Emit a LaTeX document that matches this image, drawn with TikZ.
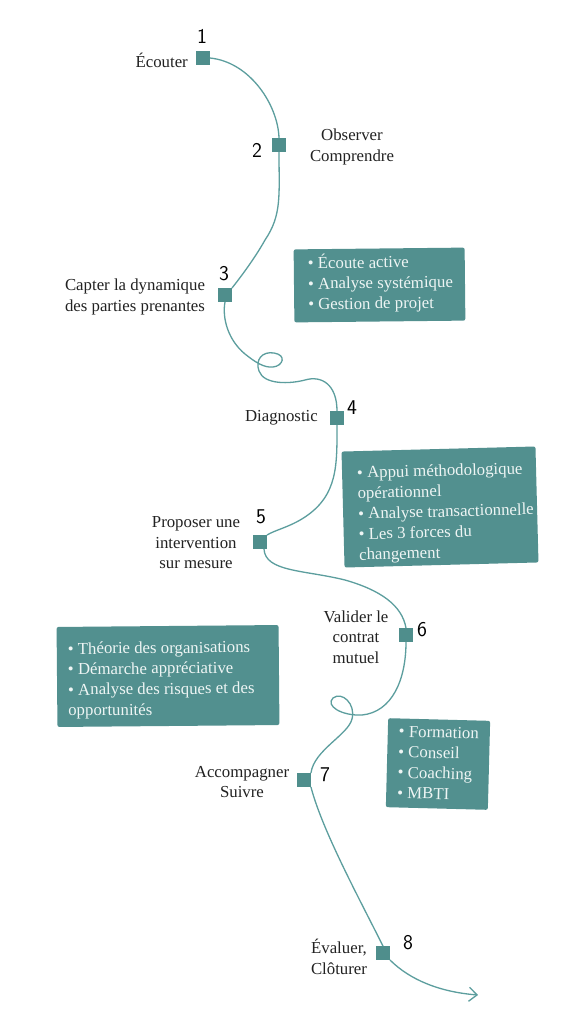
\documentclass[tikz,border=0pt]{standalone}
\usepackage{fontspec}
\setmainfont{Liberation Serif}
\usetikzlibrary{arrows.meta}
\definecolor{boxfill}{RGB}{82,144,143}
\definecolor{curvec}{RGB}{92,158,158}
\definecolor{mkc}{RGB}{79,142,140}
\definecolor{boxtxt}{RGB}{238,245,244}
\definecolor{labc}{RGB}{34,34,34}
\newcommand{\labfont}{\fontsize{16.8}{20.5}\selectfont}
\newcommand{\numfont}{\fontsize{21}{21}\sffamily}
\begin{document}
\begin{tikzpicture}[x=1pt,y=-1pt,
  mk/.style={rectangle, fill=mkc, minimum size=13.5pt, inner sep=0pt},
  lab/.style={font=\labfont, text=labc, align=center, inner sep=0pt},
  num/.style={font=\numfont, text=black, inner sep=0pt},
  boxshape/.style={fill=boxfill, rounded corners=2pt, inner sep=0pt},
  boxtext/.style={font=\labfont, text=boxtxt, align=left, inner sep=0pt, anchor=west},
  curve/.style={draw=curvec, line width=1.3pt}]
\fill[white] (0,0) rectangle (562,1024);
\useasboundingbox (0,0) rectangle (562,1024);

% boxes
\node[boxshape, minimum width=171pt, minimum height=73pt, rotate=0.6] (bA) at (379.5,285) {};
\node[boxtext, rotate=0.6, xshift=14pt, yshift=2pt] (tA) at (bA.west) {• Écoute active\\• Analyse systémique\\• Gestion de projet};
\node[boxshape, minimum width=194pt, minimum height=116pt, rotate=1.5] (bB) at (440,507) {};
\node[boxtext, rotate=1.5, xshift=15pt, yshift=-6pt] (tB) at (bB.west) {• Appui méthodologique\\opérationnel\\• Analyse transactionnelle\\• Les 3 forces du\\changement};
\node[boxshape, minimum width=222pt, minimum height=100pt, rotate=0.5] (bC) at (168,676) {};
\node[boxtext, rotate=0.5, xshift=11pt, yshift=-4pt] (tC) at (bC.west) {• Théorie des organisations\\• Démarche appréciative\\• Analyse des risques et des\\opportunités};
\node[boxshape, minimum width=102pt, minimum height=89pt, rotate=-1.5] (bD) at (438,764) {};
\node[boxtext, rotate=-1.5, xshift=11pt, yshift=1pt] (tD) at (bD.west) {• Formation\\• Conseil\\• Coaching\\• MBTI};

% markers
\node[mk] (m1) at (203,58) {};
\node[mk] (m2) at (279,145) {};
\node[mk] (m3) at (225,295) {};
\node[mk] (m4) at (337,418) {};
\node[mk] (m5) at (260,542) {};
\node[mk] (m6) at (406,635) {};
\node[mk] (m7) at (304,780) {};
\node[mk] (m8) at (383,953) {};
\coordinate (end) at (478,995);

% curve
\draw[curve] (m1.east) .. controls (250,62) and (278,105) .. (m2.north);
\draw[curve] (m2.south) .. controls (279,195) and (282,215) .. (265,240)
   .. controls (255,258) and (240,278) .. (m3.north east);
\draw[curve] (m3.south) .. controls (222,318) and (228,340) .. (245,354)
   .. controls (255,362) and (264,368) .. (273,367)
   .. controls (283,366) and (287,355) .. (274,353)
   .. controls (262,351) and (255,360) .. (259,371)
   .. controls (264,385) and (290,384) .. (305,380)
   .. controls (322,375) and (337,385) .. (m4.north);
\draw[curve] (m4.south) .. controls (337,465) and (338,495) .. (305,517)
   .. controls (290,527) and (275,530) .. (m5.north east);
\draw[curve] ([xshift=4pt]m5.south) .. controls (265,572) and (305,570) .. (345,580)
   .. controls (380,590) and (402,605) .. (m6.north);
\draw[curve] (m6.south) .. controls (406,680) and (392,712) .. (362,715)
   .. controls (342,716) and (325,706) .. (333,698)
   .. controls (342,691) and (356,704) .. (352,719)
   .. controls (348,735) and (314,750) .. (m7.north east);
\draw[curve] (m7.south east) .. controls (322,830) and (360,900) .. (m8.north);
\draw[curve, -{Straight Barb[length=8pt,width=14pt]}] (m8.south east) .. controls (410,980) and (440,992) .. (end);

% labels
\node[lab, anchor=east] (l1) at (188,60) {Écouter};
\node[lab] (l2) at (352,147) {Observer\\Comprendre};
\node[lab] (l3) at (135,297) {Capter la dynamique\\des parties prenantes};
\node[lab, anchor=east] (l4) at (318,418) {Diagnostic};
\node[lab] (l5) at (196,543) {Proposer une\\intervention\\sur mesure};
\node[lab] (l6) at (356,637) {Valider le\\contrat\\mutuel};
\node[lab] (l7) at (242,782) {Accompagner\\Suivre};
\node[lab] (l8) at (339,957) {Évaluer,\\Clôturer};

% numbers
\node[num] (n1) at (202,36) {1};
\node[num] (n2) at (257,150) {2};
\node[num] (n3) at (224,274) {3};
\node[num] (n4) at (352,408) {4};
\node[num] (n5) at (261,517) {5};
\node[num] (n6) at (422,630) {6};
\node[num] (n7) at (325,775) {7};
\node[num] (n8) at (408,943) {8};
\end{tikzpicture}
\end{document}
